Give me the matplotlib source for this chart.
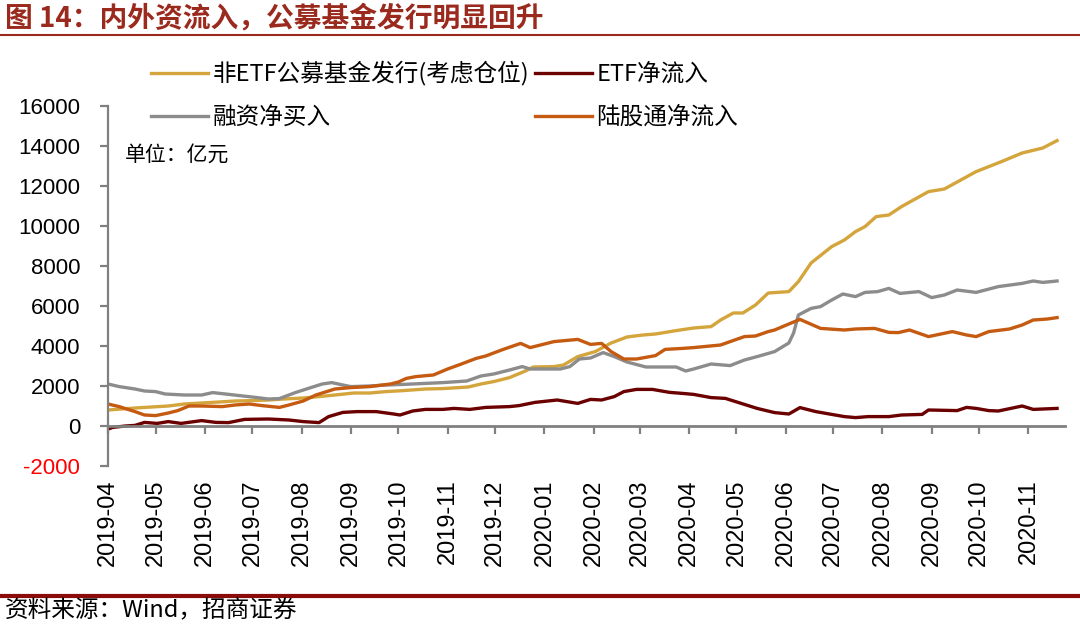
import matplotlib
matplotlib.use('Agg')
import matplotlib.pyplot as plt
from matplotlib.lines import Line2D
import pandas as pd

plt.rcParams['font.family'] = ['Noto Sans CJK SC', 'DejaVu Sans']

# ---- data (亿元) ----
fund_dates = ['2019-04-01', '2019-04-18', '2019-05-09', '2019-05-19', '2019-05-30', '2019-06-10',
              '2019-06-20', '2019-07-01', '2019-07-11', '2019-07-21', '2019-08-02', '2019-08-12',
              '2019-08-22', '2019-09-03', '2019-09-13', '2019-09-23', '2019-10-04', '2019-10-18',
              '2019-10-29', '2019-11-14', '2019-11-22', '2019-11-30', '2019-12-10', '2019-12-20',
              '2019-12-25', '2020-01-07', '2020-01-13', '2020-01-22', '2020-02-02', '2020-02-12',
              '2020-02-22', '2020-03-03', '2020-03-11', '2020-03-24', '2020-04-04', '2020-04-15',
              '2020-04-21', '2020-04-29', '2020-05-05', '2020-05-13', '2020-05-21', '2020-06-03',
              '2020-06-09', '2020-06-17', '2020-06-30', '2020-07-08', '2020-07-15', '2020-07-21',
              '2020-07-28', '2020-08-05', '2020-08-13', '2020-08-30', '2020-09-09', '2020-09-29',
              '2020-10-15', '2020-10-28', '2020-11-10', '2020-11-19']
fund_vals = [800, 900, 1000, 1100, 1150, 1200, 1250, 1270, 1300, 1350, 1400, 1470,
             1550, 1650, 1650, 1720, 1770, 1850, 1870, 1950, 2100, 2220, 2420, 2750,
             2950, 2970, 3050, 3470, 3720, 4150, 4450, 4550, 4600, 4770, 4900, 4970,
             5300, 5650, 5650, 6050, 6650, 6720, 7220, 8150, 8970, 9300, 9720, 9970,
             10470, 10550, 10970, 11720, 11850, 12720, 13220, 13650, 13900, 14270]

etf_dates = ['2019-04-01', '2019-04-04', '2019-04-12', '2019-04-18', '2019-04-24', '2019-05-02',
             '2019-05-09', '2019-05-17', '2019-05-30', '2019-06-08', '2019-06-16', '2019-06-26',
             '2019-07-11', '2019-07-24', '2019-08-02', '2019-08-12', '2019-08-18', '2019-08-27',
             '2019-09-05', '2019-09-17', '2019-09-28', '2019-10-02', '2019-10-10', '2019-10-18',
             '2019-10-29', '2019-11-05', '2019-11-15', '2019-11-25', '2019-12-10', '2019-12-16',
             '2019-12-26', '2020-01-09', '2020-01-22', '2020-01-30', '2020-02-06', '2020-02-14',
             '2020-02-20', '2020-02-28', '2020-03-09', '2020-03-20', '2020-03-28', '2020-04-04',
             '2020-04-15', '2020-04-24', '2020-05-06', '2020-05-14', '2020-05-25', '2020-06-03',
             '2020-06-10', '2020-06-20', '2020-06-30', '2020-07-08', '2020-07-15', '2020-07-23',
             '2020-08-05', '2020-08-13', '2020-08-26', '2020-08-30', '2020-09-17', '2020-09-23',
             '2020-09-29', '2020-10-07', '2020-10-13', '2020-10-28', '2020-11-04', '2020-11-19']
etf_vals = [-150, -70, 0, 30, 180, 130, 220, 130, 270, 180, 170, 330,
            350, 300, 220, 170, 470, 680, 720, 720, 600, 550, 750, 830,
            830, 880, 830, 930, 970, 1020, 1180, 1300, 1130, 1330, 1300, 1470,
            1720, 1830, 1830, 1680, 1630, 1580, 1420, 1380, 1080, 880, 670, 600,
            920, 720, 580, 470, 420, 470, 470, 550, 580, 800, 770, 930,
            880, 770, 750, 1000, 830, 880]

margin_dates = ['2019-04-01', '2019-04-08', '2019-04-18', '2019-04-24', '2019-05-01', '2019-05-07',
                '2019-05-19', '2019-05-30', '2019-06-06', '2019-06-14', '2019-06-25', '2019-07-03',
                '2019-07-11', '2019-07-18', '2019-07-28', '2019-08-06', '2019-08-14', '2019-08-20',
                '2019-08-27', '2019-09-01', '2019-09-13', '2019-09-23', '2019-10-04', '2019-10-18',
                '2019-10-29', '2019-11-13', '2019-11-22', '2019-11-30', '2019-12-10', '2019-12-18',
                '2019-12-23', '2020-01-11', '2020-01-17', '2020-01-23', '2020-01-30', '2020-02-07',
                '2020-02-14', '2020-02-22', '2020-03-05', '2020-03-24', '2020-03-30', '2020-04-04',
                '2020-04-15', '2020-04-27', '2020-05-06', '2020-05-14', '2020-05-25', '2020-06-03',
                '2020-06-06', '2020-06-09', '2020-06-17', '2020-06-23', '2020-06-30', '2020-07-07',
                '2020-07-15', '2020-07-21', '2020-07-29', '2020-08-05', '2020-08-12', '2020-08-24',
                '2020-09-01', '2020-09-09', '2020-09-17', '2020-09-29', '2020-10-13', '2020-10-28',
                '2020-11-04', '2020-11-10', '2020-11-19']
margin_vals = [2100, 1970, 1850, 1750, 1720, 1600, 1550, 1550, 1670, 1600, 1500, 1430,
               1350, 1370, 1670, 1900, 2100, 2170, 2050, 1970, 2000, 2050, 2080, 2130,
               2170, 2250, 2500, 2600, 2800, 2970, 2850, 2850, 2970, 3350, 3400, 3670,
               3470, 3200, 2950, 2950, 2750, 2850, 3100, 3020, 3300, 3470, 3720, 4150,
               4650, 5550, 5880, 5970, 6300, 6600, 6470, 6680, 6720, 6880, 6630, 6720,
               6420, 6550, 6800, 6680, 6970, 7130, 7250, 7180, 7250]

north_dates = ['2019-04-01', '2019-04-08', '2019-04-18', '2019-04-24', '2019-05-01', '2019-05-09',
               '2019-05-15', '2019-05-22', '2019-05-30', '2019-06-12', '2019-06-20', '2019-06-29',
               '2019-07-07', '2019-07-18', '2019-07-24', '2019-08-02', '2019-08-10', '2019-08-22',
               '2019-09-01', '2019-09-13', '2019-09-26', '2019-10-01', '2019-10-06', '2019-10-12',
               '2019-10-23', '2019-11-01', '2019-11-09', '2019-11-19', '2019-11-25', '2019-12-06',
               '2019-12-17', '2019-12-23', '2020-01-07', '2020-01-22', '2020-01-30', '2020-02-06',
               '2020-02-12', '2020-02-20', '2020-02-28', '2020-03-11', '2020-03-17', '2020-03-28',
               '2020-04-04', '2020-04-21', '2020-04-27', '2020-05-06', '2020-05-13', '2020-05-21',
               '2020-05-25', '2020-06-03', '2020-06-10', '2020-06-23', '2020-07-08', '2020-07-15',
               '2020-07-27', '2020-08-05', '2020-08-11', '2020-08-18', '2020-08-30', '2020-09-14',
               '2020-09-23', '2020-09-29', '2020-10-07', '2020-10-20', '2020-10-28', '2020-11-04',
               '2020-11-13', '2020-11-19']
north_vals = [1100, 970, 720, 550, 520, 650, 770, 1000, 1000, 970, 1050, 1100,
              1020, 930, 1050, 1250, 1550, 1850, 1920, 1970, 2100, 2200, 2380, 2470,
              2550, 2850, 3080, 3380, 3500, 3830, 4130, 3920, 4220, 4330, 4080, 4130,
              3720, 3350, 3350, 3520, 3830, 3880, 3920, 4050, 4220, 4470, 4500, 4720,
              4800, 5100, 5330, 4880, 4800, 4850, 4880, 4680, 4670, 4800, 4470, 4720,
              4550, 4470, 4720, 4850, 5050, 5300, 5350, 5420]

labels = ['非ETF公募基金发行(考虑仓位)', '融资净买入', 'ETF净流入', '陆股通净流入']
colors = ['#D4A53C', '#8C8C8C', '#6B0000', '#C55A11']
month_ticks = pd.date_range('2019-04-01', '2020-11-01', freq='MS')
y_ticks = list(range(-2000, 16001, 2000))

dark_red = '#9B2A1E'
axis_gray = '#808080'
latin = ['Liberation Sans', 'DejaVu Sans']

fig = plt.figure(figsize=(10.8, 6.24), dpi=100)
ax = fig.add_axes([108 / 1080, 1 - 466 / 624, (1065 - 108) / 1080, (466 - 106) / 624])

series = [(fund_dates, fund_vals), (margin_dates, margin_vals),
          (etf_dates, etf_vals), (north_dates, north_vals)]
handles = []
for (d, v), lab, col in zip(series, labels, colors):
    h, = ax.plot(pd.to_datetime(d), v, color=col, lw=2.4, label=lab, solid_joinstyle='round')
    handles.append(h)

ax.set_ylim(-2000, 16000)
ax.set_xlim(pd.Timestamp('2019-04-01'), pd.Timestamp('2020-11-24'))
ax.set_yticks(y_ticks)
ax.set_yticklabels([str(t) for t in y_ticks], fontsize=16, family=latin)
for t, lbl in zip(y_ticks, ax.get_yticklabels()):
    if t < 0:
        lbl.set_color('red')

for s in ['top', 'right']:
    ax.spines[s].set_visible(False)
ax.spines['left'].set_color(axis_gray)
ax.spines['left'].set_linewidth(1.6)
ax.spines['bottom'].set_position(('data', 0))
ax.spines['bottom'].set_color(axis_gray)
ax.spines['bottom'].set_linewidth(2)
ax.set_xticks(month_ticks)
ax.tick_params(axis='x', direction='out', length=6, width=1.6, color=axis_gray, labelbottom=False)
ax.tick_params(axis='y', direction='out', length=6, width=1.6, color=axis_gray, pad=14)

# month labels at the bottom of the plot area
trans = ax.get_xaxis_transform()
for m in month_ticks:
    ax.text(m, -0.038, m.strftime('%Y-%m'), transform=trans, rotation=90, ha='center', va='top',
            fontsize=17, family=latin)

fig.legend(handles=handles, labels=labels, ncol=2, loc='upper left',
           bbox_to_anchor=(151 / 1080, 1 - 61 / 624), frameon=False, fontsize=17,
           handlelength=2.4, handletextpad=0.2, columnspacing=0.25, labelspacing=0.85,
           borderpad=0, borderaxespad=0)

fig.text(125 / 1080, 1 - 155 / 624, '单位：亿元', fontsize=15, va='center', ha='left')

# title, rules and source
fig.text(5 / 1080, 1 - 18 / 624, '图 14：内外资流入，公募基金发行明显回升', fontsize=20,
         fontweight='bold', color=dark_red, va='center', ha='left')
fig.add_artist(Line2D([0, 1], [1 - 35 / 624] * 2, color=dark_red, lw=1.5))
fig.add_artist(Line2D([0, 1], [1 - 596 / 624] * 2, color='#8B0A0A', lw=3))
fig.text(5 / 1080, 1 - 610 / 624, '资料来源：Wind，招商证券', fontsize=17, va='center', ha='left')

fig.savefig('out.png', dpi=100, facecolor='white')
